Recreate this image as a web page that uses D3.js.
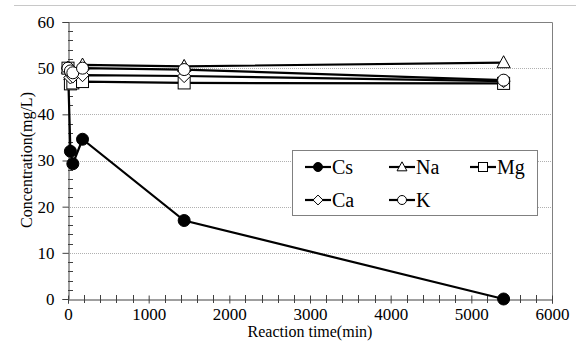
<!DOCTYPE html>
<html><head><meta charset="utf-8">
<script src="https://cdn.jsdelivr.net/npm/d3@7"></script>
<style>body{margin:0;background:#fff}svg{display:block}</style>
</head><body>
<svg id="c" width="576" height="341" font-family="Liberation Serif, serif"></svg>
<script>
const times = [0, 30, 60, 180, 1440, 5400];
const cs = [50, 32, 29.3, 34.6, 17, 0];
const na = [50, 48.6, 49.2, 50.7, 50.4, 51.2];
const mg = [50, 46.6, 46.8, 47.1, 46.8, 46.7];
const ca = [50, 48.0, 48.2, 48.5, 48.3, 47.2];
const k  = [50, 49.4, 49.0, 50.0, 49.7, 47.4];
const seriesNames = ["Cs", "Na", "Mg", "Ca", "K"];
const xTicks = [0, 1000, 2000, 3000, 4000, 5000, 6000];
const yTicks = [0, 10, 20, 30, 40, 50, 60];

const series = [
  {name: "Cs", vals: cs, sym: "circleFilled"},
  {name: "Na", vals: na, sym: "triangle"},
  {name: "Mg", vals: mg, sym: "square"},
  {name: "Ca", vals: ca, sym: "diamond"},
  {name: "K",  vals: k,  sym: "circle"}
];

const FONT = "Liberation Serif";
const svg = d3.select("#c");
const L = 68, R = 552, T = 22, B = 299;
const x = d3.scaleLinear().domain([0, 6000]).range([L, R]);
const y = d3.scaleLinear().domain([0, 60]).range([B, T]);

// outer top line
svg.append("line").attr("x1", 14).attr("x2", 576).attr("y1", 5.5).attr("y2", 5.5)
  .attr("stroke", "#c8c8c8").attr("stroke-width", 1);

// gridlines
svg.append("g").selectAll("line").data(yTicks.filter(v => v > 0 && v < 60)).join("line")
  .attr("x1", L).attr("x2", R).attr("y1", d => Math.round(y(d)) + 0.5).attr("y2", d => Math.round(y(d)) + 0.5)
  .attr("stroke", "#b0b0b0").attr("stroke-width", 1).attr("stroke-dasharray", "1,1");

// plot border (top, right)
svg.append("path").attr("d", `M${L},${T+0.5}H${R+0.5}V${B}`).attr("fill", "none")
  .attr("stroke", "#808080").attr("stroke-width", 1);

// y axis
const yAxis = d3.axisLeft(y).tickValues(yTicks).tickSize(6).tickPadding(8);
const gy = svg.append("g").attr("transform", `translate(${L+0.5},0)`).call(yAxis);
gy.attr("font-family", FONT).attr("font-size", 17);
gy.select(".domain").attr("stroke", "#404040");
gy.selectAll(".tick line").attr("stroke", "#404040");
gy.selectAll(".tick text").attr("font-family", FONT).attr("font-size", 17).attr("fill", "#000");
const yMinor = d3.range(0, 60.01, 2).filter(v => v % 10 !== 0);
svg.append("g").selectAll("line").data(yMinor).join("line")
  .attr("x1", L).attr("x2", L + 5).attr("y1", d => Math.round(y(d)) + 0.5).attr("y2", d => Math.round(y(d)) + 0.5)
  .attr("stroke", "#404040");

// x axis
const xAxis = d3.axisBottom(x).tickValues(xTicks).tickSize(4).tickPadding(4).tickFormat(d3.format("d"));
const gx = svg.append("g").attr("transform", `translate(0,${B+0.5})`).call(xAxis);
gx.attr("font-family", FONT).attr("font-size", 17);
gx.select(".domain").attr("stroke", "#404040");
gx.selectAll(".tick line").attr("stroke", "#404040").attr("y1", -4);
gx.selectAll(".tick text").attr("font-family", FONT).attr("font-size", 17).attr("fill", "#000");
const xMinor = d3.range(0, 6000.1, 200).filter(v => v % 1000 !== 0);
svg.append("g").selectAll("line").data(xMinor).join("line")
  .attr("x1", d => Math.round(x(d)) + 0.5).attr("x2", d => Math.round(x(d)) + 0.5).attr("y1", B - 4).attr("y2", B + 4)
  .attr("stroke", "#404040");

// axis titles
svg.append("text").attr("x", 310).attr("y", 337).attr("text-anchor", "middle")
  .attr("font-family", FONT).attr("font-size", 16).text("Reaction time(min)");
svg.append("text").attr("transform", "translate(32,160) rotate(-90)").attr("text-anchor", "middle")
  .attr("font-family", FONT).attr("font-size", 16).text("Concentration(mg/L)");

function drawSym(g, sym, cx, cy, s) {
  if (sym === "circleFilled") {
    g.append("circle").attr("cx", cx).attr("cy", cy).attr("r", s).attr("fill", "#000").attr("stroke", "#000");
  } else if (sym === "circle") {
    g.append("circle").attr("cx", cx).attr("cy", cy).attr("r", s).attr("fill", "#fff").attr("stroke", "#000").attr("stroke-width", 1);
  } else if (sym === "square") {
    g.append("rect").attr("x", cx - s).attr("y", cy - s).attr("width", 2*s).attr("height", 2*s)
      .attr("fill", "#fff").attr("stroke", "#000").attr("stroke-width", 1);
  } else if (sym === "triangle") {
    g.append("path").attr("d", `M${cx},${cy - s*1.15}L${cx + s*1.1},${cy + s*0.85}L${cx - s*1.1},${cy + s*0.85}Z`)
      .attr("fill", "#fff").attr("stroke", "#000").attr("stroke-width", 1);
  } else if (sym === "diamond") {
    g.append("path").attr("d", `M${cx},${cy - s*1.1}L${cx + s*1.1},${cy}L${cx},${cy + s*1.1}L${cx - s*1.1},${cy}Z`)
      .attr("fill", "#fff").attr("stroke", "#000").attr("stroke-width", 1);
  }
}

const line = d3.line().x((d, i) => x(times[i])).y(d => y(d));
const plot = svg.append("g");
series.forEach(s => {
  const g = plot.append("g");
  g.append("path").attr("d", line(s.vals)).attr("fill", "none").attr("stroke", "#000").attr("stroke-width", 2.2);
  s.vals.forEach((v, i) => drawSym(g, s.sym, x(times[i]), y(v), 6));
});

// legend
const lg = svg.append("g");
lg.append("rect").attr("x", 292.5).attr("y", 150.5).attr("width", 245).attr("height", 65)
  .attr("fill", "#fff").attr("stroke", "#808080").attr("stroke-width", 1);
const legPos = [[318, 167], [402, 167], [483, 167], [318, 200], [402, 200]];
series.forEach((s, i) => {
  const [cx, cy] = legPos[i];
  lg.append("line").attr("x1", cx - 13).attr("x2", cx + 13).attr("y1", cy).attr("y2", cy)
    .attr("stroke", "#000").attr("stroke-width", 2.2);
  drawSym(lg, s.sym, cx, cy, 4.5);
  lg.append("text").attr("x", cx + 14).attr("y", cy + 7).attr("font-family", FONT).attr("font-size", 20)
    .text(seriesNames[i]);
});
</script>
</body></html>
